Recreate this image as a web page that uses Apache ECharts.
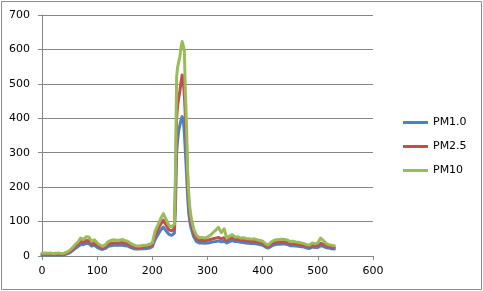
<!DOCTYPE html>
<html>
<head>
<meta charset="utf-8">
<script src="https://cdn.jsdelivr.net/npm/echarts@6/dist/echarts.min.js"></script>
<style>
html,body{margin:0;padding:0;background:#fff;}
#chart{width:483px;height:291px;}
</style>
</head>
<body>
<div id="chart"></div>
<script>
const seriesNames = ['PM1.0', 'PM2.5', 'PM10'];
const xValues = [0,5,10,15,20,25,30,35,40,45,50,55,60,65,70,75,80,85,90,95,100,105,110,115,120,125,130,135,140,145,150,155,160,165,170,175,180,185,190,195,200,205,210,215,220,225,230,235,240,242,244,246,248,250,252,254,256,258,260,262,264,266,268,270,275,280,285,290,295,300,305,310,315,320,325,330,335,340,345,350,355,360,365,370,375,380,385,390,395,400,405,410,415,420,425,430,435,440,445,450,455,460,465,470,475,480,485,490,495,500,505,510,515,520,525,530];
const pm10 = [8,9,8,9,7,8,9,7,8,11,16,24,33,40,52,48,56,55,42,47,38,32,28,33,42,45,47,46,46,48,45,43,38,33,30,29,30,31,32,34,38,72,90,108,123,106,88,85,92,250,520,550,565,580,605,623,612,598,470,380,250,180,140,115,78,60,53,54,52,55,60,68,75,83,68,79,52,58,62,55,56,52,53,51,50,49,50,47,45,43,36,32,40,45,47,48,49,48,46,42,43,41,40,38,36,33,32,38,35,38,52,45,36,33,31,30];
const pm25 = [5,6,5,6,5,5,6,5,5,8,12,19,27,33,42,40,45,44,35,38,31,26,23,27,34,37,38,38,38,39,37,35,31,27,25,24,25,26,27,28,32,60,76,92,104,90,76,73,80,200,400,440,460,480,505,526,510,470,400,320,220,160,125,100,68,50,45,46,45,46,48,50,52,54,50,53,45,50,53,49,49,46,46,45,44,43,43,41,39,37,31,28,34,38,40,41,41,41,39,36,36,35,34,32,31,28,27,31,30,31,37,34,29,28,26,25];
const pm1 = [3,4,3,4,3,3,4,3,3,6,9,15,22,27,34,33,37,36,29,31,25,21,19,22,28,30,31,31,31,32,30,29,25,22,20,20,21,21,22,23,27,48,62,75,84,73,63,60,66,150,300,340,366,380,395,405,398,360,300,240,170,125,100,82,56,42,38,38,37,38,39,41,42,44,41,43,38,42,45,42,42,40,39,38,37,36,36,35,33,31,26,23,28,32,34,34,35,35,33,30,30,29,28,27,26,23,22,26,25,25,30,28,24,23,21,20];
const colors = ['#4F81BD', '#C0504D', '#9BBB59'];

const pairs = arr => xValues.map((x, i) => [x, arr[i]]);
const dataSets = [pm1, pm25, pm10];

const chart = echarts.init(document.getElementById('chart'));
const font = 'DejaVu Sans';
chart.setOption({
  animation: false,
  graphic: [{
    type: 'rect', shape: {x: 1.5, y: 1.5, width: 480, height: 288},
    style: {fill: 'none', stroke: '#8c8c8c', lineWidth: 1}, silent: true, z: -10
  }],
  grid: {left: 42, right: 110, top: 15, bottom: 35, containLabel: false},
  legend: {
    orient: 'vertical', left: 403, top: 117, itemGap: 13, padding: 0,
    icon: 'rect', itemWidth: 25, itemHeight: 3,
    textStyle: {fontFamily: font, fontSize: 11, color: '#000'},
    data: seriesNames
  },
  xAxis: {
    type: 'value', min: 0, max: 600, interval: 100,
    axisLine: {show: true, lineStyle: {color: '#868686'}},
    axisTick: {show: true, length: 4, lineStyle: {color: '#868686'}},
    splitLine: {show: false},
    axisLabel: {fontFamily: font, fontSize: 11, color: '#000', margin: 10}
  },
  yAxis: {
    type: 'value', min: 0, max: 700, interval: 100,
    axisLine: {show: true, lineStyle: {color: '#868686'}},
    axisTick: {show: true, length: 4, lineStyle: {color: '#868686'}},
    splitLine: {show: true, lineStyle: {color: '#868686'}},
    axisLabel: {fontFamily: font, fontSize: 11, color: '#000', margin: 12}
  },
  series: seriesNames.map((name, i) => ({
    name, type: 'line', data: pairs(dataSets[i]),
    showSymbol: false, symbol: 'none',
    itemStyle: {color: colors[i]},
    lineStyle: {color: colors[i], width: 3, join: 'round', cap: 'round'},
    z: 2 + i
  }))
});
</script>
</body>
</html>
